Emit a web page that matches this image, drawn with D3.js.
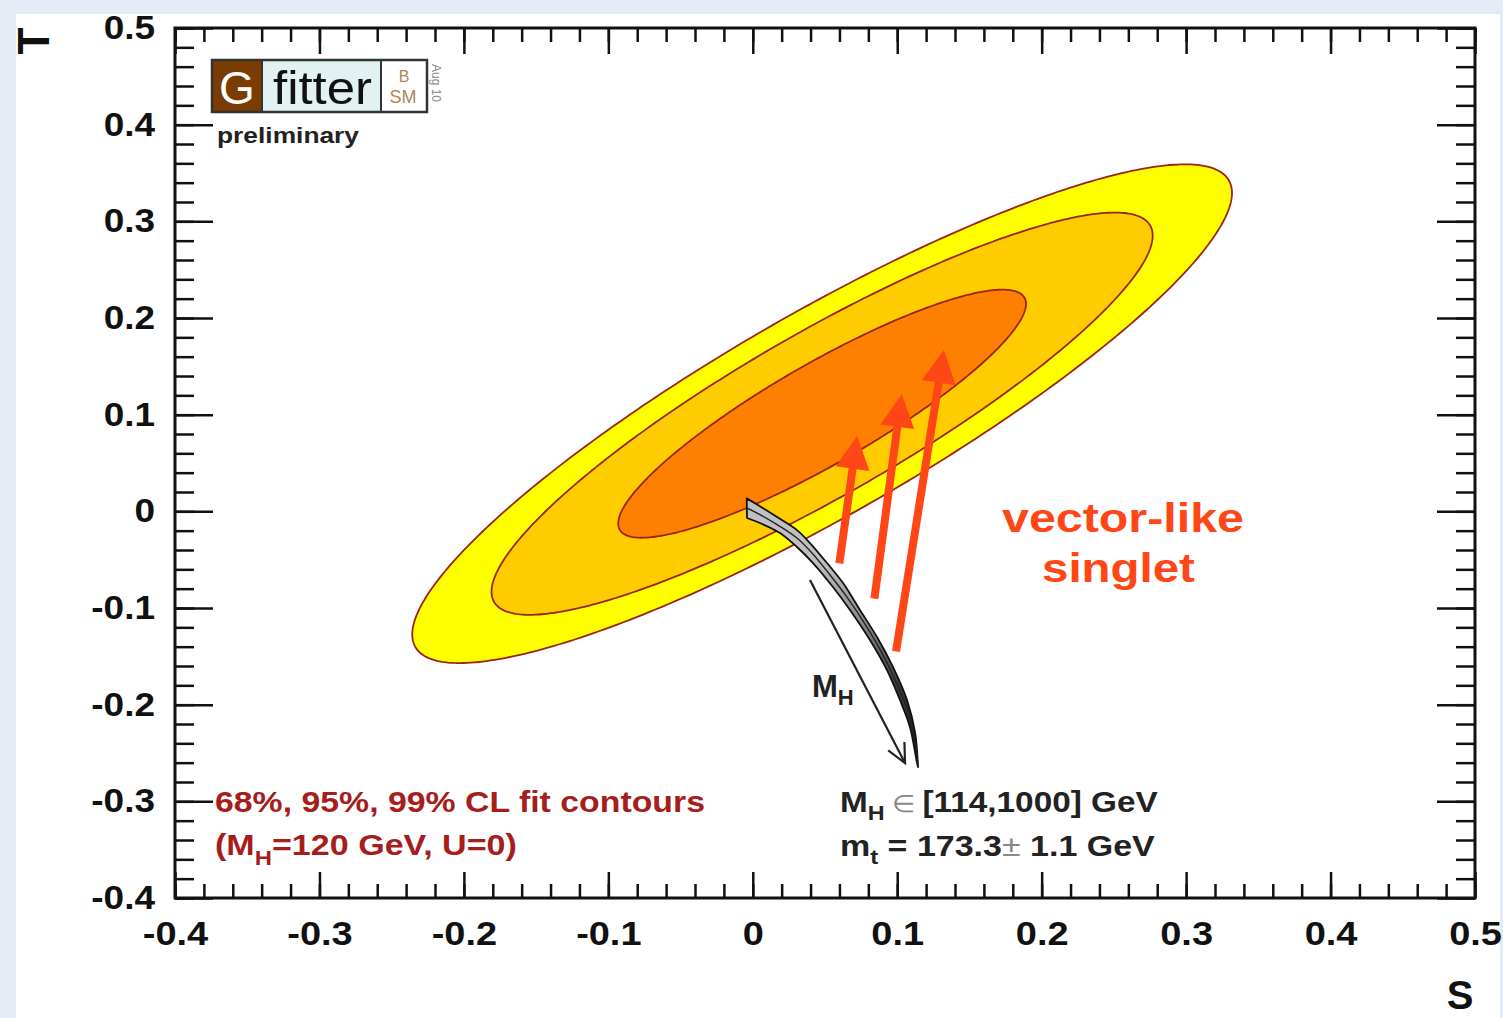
<!DOCTYPE html>
<html><head><meta charset="utf-8">
<script src="https://cdn.jsdelivr.net/npm/d3@7"></script>
<style>
html,body{margin:0;padding:0;background:#e4ebf4;}
svg{display:block;}
text{font-family:"Liberation Sans",Arial,Helvetica,sans-serif;}
</style></head>
<body><svg id="c" width="1503" height="1018"></svg>
<script>
// ---------------- data ----------------
const xTickValues = [-0.4,-0.3,-0.2,-0.1,0,0.1,0.2,0.3,0.4,0.5];
const xTickLabels = ["-0.4","-0.3","-0.2","-0.1","0","0.1","0.2","0.3","0.4","0.5"];
const yTickValues = [-0.4,-0.3,-0.2,-0.1,0,0.1,0.2,0.3,0.4,0.5];
const yTickLabels = ["-0.4","-0.3","-0.2","-0.1","0","0.1","0.2","0.3","0.4","0.5"];
const minorTickStep = 0.02;

// fit result (S,T) with U=0
const fitCenterS = 0.048, fitCenterT = 0.101;
const fitSigmaS = 0.0935, fitSigmaT = 0.085;
const fitRho = 0.885;
const contourCL = [0.99, 0.95, 0.68];
const contourColors = ["#ffff00", "#ffcc00", "#ff7f00"];

// SM prediction band, MH in [114,1000] GeV, mt = 173.3 +- 1.1 GeV
const smUpperS = [-0.0042,0.0036,0.0168,0.0306,0.0396,0.0514,0.0625,0.0742,0.0860,0.0971,0.1068,0.1124,0.1144];
const smUpperT = [0.0134,0.0065,-0.0059,-0.0194,-0.0328,-0.0535,-0.0742,-0.1021,-0.1300,-0.1611,-0.1952,-0.2293,-0.2645];
const smMidS   = [-0.0040,0.0043,0.0174,0.0306,0.0410,0.0535,0.0652,0.0777,0.0895,0.0999,0.1082,0.1130,0.1144];
const smMidT   = [0.0034,-0.0028,-0.0142,-0.0276,-0.0431,-0.0659,-0.0887,-0.1166,-0.1466,-0.1786,-0.2097,-0.2448,-0.2645];
const smLowerS = [-0.0040,0.0050,0.0188,0.0306,0.0417,0.0555,0.0673,0.0811,0.0929,0.1019,0.1088,0.1137,0.1144];
const smLowerT = [-0.0069,-0.0121,-0.0224,-0.0369,-0.0535,-0.0783,-0.1021,-0.1331,-0.1642,-0.1952,-0.2231,-0.2603,-0.2645];

// MH direction arrow
const mhArrowS = [0.0396, 0.1054];
const mhArrowT = [-0.0711, -0.2604];

// vector-like singlet shift arrows
const vlTailS = [0.0599, 0.0842, 0.0992];
const vlTailT = [-0.0538, -0.0903, -0.1448];
const vlTipS  = [0.0723, 0.1031, 0.1323];
const vlTipT  = [0.0779, 0.1213, 0.1669];

// ---------------- layout ----------------
const svg = d3.select("#c");
const W = 1503, H = 1018;
const L = 175, R = 1475, T = 28, B = 898;
const x = d3.scaleLinear().domain([-0.4, 0.5]).range([L, R]);
const y = d3.scaleLinear().domain([-0.4, 0.5]).range([B, T]);

// page
svg.append("rect").attr("x",16).attr("y",14).attr("width",1484).attr("height",H-14).attr("fill","#ffffff");

const defs = svg.append("defs");
const grad = defs.append("linearGradient").attr("id","bandGrad").attr("gradientUnits","userSpaceOnUse")
  .attr("x1",0).attr("y1",560).attr("x2",0).attr("y2",740);
grad.append("stop").attr("offset",0).attr("stop-color","#c0c0c0");
grad.append("stop").attr("offset",0.35).attr("stop-color","#8a8a8a");
grad.append("stop").attr("offset",0.7).attr("stop-color","#3a3a3a");
grad.append("stop").attr("offset",1).attr("stop-color","#222");

const plot = svg.append("g");

// contours
function ellipsePts(cl){
  const k = Math.sqrt(-2*Math.log(1-cl));
  const n = 360;
  return d3.range(n).map(i=>{
    const ph = 2*Math.PI*i/n;
    const s = fitCenterS + k*fitSigmaS*Math.cos(ph);
    const t = fitCenterT + k*fitSigmaT*(fitRho*Math.cos(ph) + Math.sqrt(1-fitRho*fitRho)*Math.sin(ph));
    return [s,t];
  });
}
const lineST = d3.line().x(d=>x(d[0])).y(d=>y(d[1]));
contourCL.forEach((cl,i)=>{
  plot.append("path")
    .attr("d", lineST.curve(d3.curveLinearClosed)(ellipsePts(cl)))
    .attr("fill", contourColors[i])
    .attr("stroke", "#9b2415")
    .attr("stroke-width", 1.8);
});

// SM band
const zip = (a,b)=>a.map((v,i)=>[v,b[i]]);
const up = zip(smUpperS, smUpperT), md = zip(smMidS, smMidT), lo = zip(smLowerS, smLowerT);
const smooth = d3.line().x(d=>x(d[0])).y(d=>y(d[1])).curve(d3.curveCatmullRom);
const bandPath = smooth(up) + "L" + smooth(lo.slice().reverse()).slice(1) + "Z";
plot.append("path").attr("d", bandPath).attr("fill","url(#bandGrad)").attr("stroke","#111").attr("stroke-width",1.8).attr("stroke-linejoin","round");
plot.append("path").attr("d", smooth(md)).attr("fill","none").attr("stroke","#222").attr("stroke-width",1.4);

// MH arrow
{
  const x0 = x(mhArrowS[0]), y0 = y(mhArrowT[0]), x1 = x(mhArrowS[1]), y1 = y(mhArrowT[1]);
  plot.append("line").attr("x1",x0).attr("y1",y0).attr("x2",x1).attr("y2",y1).attr("stroke","#222").attr("stroke-width",2.2);
  const a = Math.atan2(y0-y1, x0-x1), hl = 21, ha = 0.45;
  const p = d3.path();
  p.moveTo(x1 + hl*Math.cos(a+ha), y1 + hl*Math.sin(a+ha));
  p.lineTo(x1, y1);
  p.lineTo(x1 + hl*Math.cos(a-ha), y1 + hl*Math.sin(a-ha));
  plot.append("path").attr("d", p.toString()).attr("fill","none").attr("stroke","#222").attr("stroke-width",2.2);
}
// MH label
{
  const t = plot.append("text").attr("x",812).attr("y",697).attr("font-weight","bold").attr("font-size",31).attr("fill","#222");
  t.append("tspan").text("M");
  t.append("tspan").attr("font-size",22).attr("dy",8).text("H");
}

// red arrows
const red = "#ff4616";
vlTailS.forEach((_,i)=>{
  const qx = x(vlTailS[i]), qy = y(vlTailT[i]), px = x(vlTipS[i]), py = y(vlTipT[i]);
  const len = Math.hypot(px-qx, py-qy), ux = (px-qx)/len, uy = (py-qy)/len;
  const hl = 33, hw = 17;
  const bx = px - ux*hl, by = py - uy*hl;
  plot.append("line").attr("x1",qx).attr("y1",qy).attr("x2",bx+ux*4).attr("y2",by+uy*4)
    .attr("stroke",red).attr("stroke-width",8);
  plot.append("path")
    .attr("d", `M${px},${py}L${bx - uy*hw},${by + ux*hw}L${bx + uy*hw},${by - ux*hw}Z`)
    .attr("fill",red);
});

// ---------------- axes ----------------
const minor = d3.range(-0.4, 0.5001, minorTickStep);
const ax = svg.append("g");
function styleAxis(g){ g.select(".domain").remove(); g.selectAll("line").attr("stroke","#111").attr("stroke-width",2.5); }

ax.append("g").attr("transform",`translate(0,${B})`).call(d3.axisBottom(x).tickValues(minor).tickSize(-14).tickFormat("")).call(styleAxis);
ax.append("g").attr("transform",`translate(0,${T})`).call(d3.axisTop(x).tickValues(minor).tickSize(-14).tickFormat("")).call(styleAxis);
ax.append("g").attr("transform",`translate(${L},0)`).call(d3.axisLeft(y).tickValues(minor).tickSize(-19).tickFormat("")).call(styleAxis);
ax.append("g").attr("transform",`translate(${R},0)`).call(d3.axisRight(y).tickValues(minor).tickSize(-19).tickFormat("")).call(styleAxis);

const xb = ax.append("g").attr("transform",`translate(0,${B})`)
  .call(d3.axisBottom(x).tickValues(xTickValues).tickSize(-26).tickPadding(24).tickFormat((d,i)=>xTickLabels[i])).call(styleAxis);
ax.append("g").attr("transform",`translate(0,${T})`).call(d3.axisTop(x).tickValues(xTickValues).tickSize(-26).tickFormat("")).call(styleAxis);
const yl = ax.append("g").attr("transform",`translate(${L},0)`)
  .call(d3.axisLeft(y).tickValues(yTickValues).tickSize(-38).tickPadding(20).tickFormat((d,i)=>yTickLabels[i])).call(styleAxis);
ax.append("g").attr("transform",`translate(${R},0)`).call(d3.axisRight(y).tickValues(yTickValues).tickSize(-38).tickFormat("")).call(styleAxis);

[xb, yl].forEach(g=>{
  g.selectAll("text").attr("font-family",'"Liberation Sans",Arial,sans-serif').attr("font-weight","bold")
    .attr("font-size",33).attr("fill","#111");
});
function stretch(sel, f){
  sel.each(function(){ const w = this.getComputedTextLength(); d3.select(this).attr("textLength", w*f).attr("lengthAdjust","spacingAndGlyphs"); });
}
stretch(xb.selectAll("text"), 1.15);
stretch(yl.selectAll("text"), 1.12);

// frame
svg.append("rect").attr("x",L).attr("y",T).attr("width",R-L).attr("height",B-T)
  .attr("fill","none").attr("stroke","#111").attr("stroke-width",3);

// axis titles
svg.append("text").attr("transform","translate(49,41) rotate(-90)").attr("text-anchor","middle")
  .attr("font-weight","bold").attr("font-size",44).attr("fill","#111").text("T");
svg.append("text").attr("x",1460).attr("y",1009).attr("text-anchor","middle")
  .attr("font-weight","bold").attr("font-size",40).attr("fill","#111").text("S");

// helper to fit a text group to a given width
function fitText(g, x0, baseline, width){
  const bb = g.node().getBBox();
  const sx = width / bb.width;
  g.attr("transform", `translate(${x0},${baseline}) scale(${sx},1)`);
}

// logo
{
  const lg = svg.append("g");
  lg.append("rect").attr("x",212).attr("y",60).attr("width",50).attr("height",52).attr("fill","#7a3c00");
  lg.append("rect").attr("x",262).attr("y",60).attr("width",119).attr("height",52).attr("fill","#e2f1f1");
  lg.append("rect").attr("x",381).attr("y",60).attr("width",46).attr("height",52).attr("fill","#ffffff");
  lg.append("line").attr("x1",262).attr("x2",262).attr("y1",60).attr("y2",112).attr("stroke","#333").attr("stroke-width",2);
  lg.append("line").attr("x1",381).attr("x2",381).attr("y1",60).attr("y2",112).attr("stroke","#333").attr("stroke-width",2);
  lg.append("rect").attr("x",212).attr("y",60).attr("width",215).attr("height",52).attr("fill","none").attr("stroke","#333").attr("stroke-width",2.5);
  lg.append("text").attr("x",237).attr("y",104).attr("text-anchor","middle").attr("font-size",46).attr("fill","#fff").text("G");
  const ft = lg.append("g"); ft.append("text").attr("font-size",46).attr("fill","#111").text("fitter");
  fitText(ft, 273, 104, 99);
  lg.append("text").attr("x",404).attr("y",82).attr("text-anchor","middle").attr("font-size",16).attr("fill","#b38455").text("B");
  lg.append("text").attr("x",403).attr("y",103).attr("text-anchor","middle").attr("font-size",18).attr("fill","#b38455").text("SM");
  lg.append("text").attr("transform","translate(432,64) rotate(90)").attr("font-size",12).attr("fill","#888").text("Aug 10");
  const pr = lg.append("g"); pr.append("text").attr("font-size",22).attr("font-weight","bold").attr("fill","#222").text("preliminary");
  fitText(pr, 217, 143, 143);
}

// legend text (contours)
const dred = "#a61d1c";
{
  const g1 = svg.append("g"); g1.append("text").attr("font-size",30).attr("font-weight","bold").attr("fill",dred).text("68%, 95%, 99% CL fit contours");
  fitText(g1, 215, 812, 490);
  const g2 = svg.append("g"); const t2 = g2.append("text").attr("font-size",30).attr("font-weight","bold").attr("fill",dred);
  t2.append("tspan").text("(M");
  t2.append("tspan").attr("font-size",21).attr("dy",10).text("H");
  t2.append("tspan").attr("dy",-10).text("=120 GeV, U=0)");
  fitText(g2, 215, 855, 302);
}
// SM legend text
{
  const g1 = svg.append("g"); const t1 = g1.append("text").attr("font-size",30).attr("font-weight","bold").attr("fill","#222");
  t1.append("tspan").text("M");
  t1.append("tspan").attr("font-size",21).attr("dy",8).text("H");
  t1.append("tspan").attr("dy",-8).attr("font-weight","normal").attr("font-size",24).attr("fill","#888").text(" \u2208 ");
  t1.append("tspan").text("[114,1000] GeV");
  fitText(g1, 840, 812, 318);
  const g2 = svg.append("g"); const t2 = g2.append("text").attr("font-size",30).attr("font-weight","bold").attr("fill","#222");
  t2.append("tspan").text("m");
  t2.append("tspan").attr("font-size",21).attr("dy",8).text("t");
  t2.append("tspan").attr("dy",-8).text(" = 173.3");
  t2.append("tspan").attr("font-weight","normal").attr("fill","#888").text("\u00b1");
  t2.append("tspan").text(" 1.1 GeV");
  fitText(g2, 840, 856, 315);
}
// vector-like singlet
{
  const v1 = svg.append("g"); v1.append("text").attr("font-family",'"DejaVu Sans",sans-serif').attr("font-weight","bold")
    .attr("font-size",40).attr("fill",red).text("vector-like");
  fitText(v1, 1002, 532, 242);
  const v2 = svg.append("g"); v2.append("text").attr("font-family",'"DejaVu Sans",sans-serif').attr("font-weight","bold")
    .attr("font-size",40).attr("fill",red).text("singlet");
  fitText(v2, 1042, 582, 153);
}
</script>
</body></html>
